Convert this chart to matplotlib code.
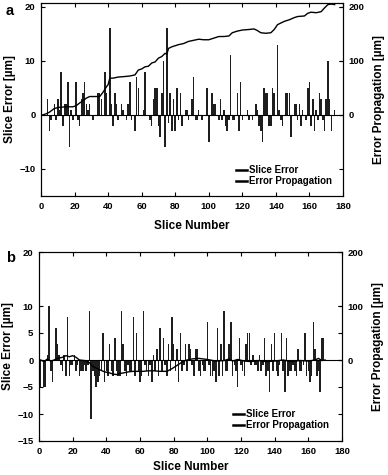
import matplotlib
matplotlib.use('Agg')
import matplotlib.pyplot as plt
from matplotlib.lines import Line2D

plt.rcParams['font.family'] = ['Liberation Sans', 'DejaVu Sans']
plt.rcParams['font.weight'] = 'bold'
plt.rcParams['axes.labelweight'] = 'bold'

# ---------------- Panel a data ----------------
a_slices = [4, 5, 6, 8, 9, 10, 11, 12, 13, 14, 15, 16, 17, 18, 19, 21, 22, 23, 24, 25,
            26, 27, 28, 29, 31, 34, 35, 36, 38, 39, 41, 42, 43, 44, 45, 46, 48, 49, 51, 52,
            53, 54, 56, 57, 58, 61, 62, 65, 66, 67, 68, 69, 70, 71, 72, 73, 74, 75, 76, 77,
            78, 79, 80, 81, 82, 83, 84, 86, 87, 88, 90, 91, 92, 93, 94, 96, 99, 100, 102, 103,
            104, 106, 107, 108, 109, 110, 111, 112, 113, 114, 115, 117, 118, 119, 120, 123, 124, 126, 128, 129,
            130, 131, 132, 133, 134, 135, 136, 137, 138, 139, 141, 142, 143, 144, 146, 147, 148, 149, 151, 152,
            153, 154, 155, 156, 158, 159, 160, 161, 162, 163, 164, 165, 166, 167, 168, 169, 170, 171, 172, 173,
            175]
a_errors = [3, -3, -1, 2, -1, 3, 1, 8, -2, 2, 2, 6, -6, 1, -1, 6, -1, -2, 3, 4,
            6, 2, 1, 2, -1, 4, 4, 3, 8, 4, 16, 2, -2, 4, 2, -1, 2, 1, -1, 2,
            6, -1, -3, 7, 5, 1, 8, -1, -2, 3, 5, 5, -2, -4, 4, 10, -6, 16, -1.5, 4,
            -3, 3, -3, 5, -1, 4, -2, 1, 1, -1, 3, 7, -1, -1, 1, -1, 5, -5, 4, 2,
            2, -1, 3, -1, 1, -2, -3, -1, 11, -1, -1, 4, -3, 6, -1, 1, -1, -1, 2, 1,
            -2, -3, -5, 5, 4, 4, -2, -2, 5, 4, 13, 1, -1, -2, 4, 4, 4, -4, 2, 2,
            -1, 2, -2, 1, -1, 5, 6, -2, 3, -3, 1, -1, 4, 3, -1, -3, 3, 10, 3, -3,
            1]
a_prop_slices = [1, 3, 5, 8, 11, 15, 19, 21, 23, 25, 27, 29, 32, 35, 37, 39, 40, 41, 43, 46,
                 50, 53, 56, 58, 60, 62, 64, 66, 68, 70, 72, 74, 75, 76, 78, 82, 85, 88, 91, 94,
                 97, 100, 103, 106, 109, 112, 114, 117, 120, 124, 127, 129, 131, 134, 137, 139, 141, 143, 145, 148,
                 151, 153, 157, 159, 161, 164, 167, 169, 171, 173, 175]
a_prop = [0, 2, 5, 12, 14, 15, 15, 17, 22, 26, 31, 34, 34, 34, 42, 52, 56, 68, 68, 70,
          71, 72, 74, 83, 85, 89, 90, 96, 98, 105, 108, 114, 112, 123, 126, 130, 132, 136, 138, 140,
          139, 139, 142, 145, 145, 146, 152, 155, 157, 158, 159, 156, 152, 151, 152, 158, 167, 170, 173, 176,
          180, 182, 183, 188, 190, 189, 191, 198, 204, 205, 204]

# ---------------- Panel b data ----------------
b_slices = [1, 3, 4, 5, 6, 7, 8, 10, 11, 12, 13, 14, 15, 16, 17, 18, 19, 20, 21, 22,
            23, 24, 25, 26, 27, 28, 29, 30, 31, 32, 33, 34, 35, 36, 37, 38, 39, 40, 41, 42,
            43, 44, 45, 46, 47, 48, 49, 50, 51, 52, 53, 54, 55, 56, 57, 58, 59, 60, 61, 62,
            63, 64, 65, 66, 67, 68, 69, 70, 71, 72, 73, 74, 75, 76, 77, 78, 79, 80, 81, 82,
            83, 84, 85, 86, 87, 88, 89, 90, 91, 92, 93, 94, 95, 96, 97, 98, 99, 100, 101, 102,
            103, 104, 105, 106, 107, 108, 109, 110, 111, 112, 113, 114, 115, 116, 117, 118, 119, 120, 121, 122,
            123, 124, 125, 126, 127, 128, 129, 130, 131, 132, 133, 134, 135, 136, 137, 138, 139, 140, 141, 142,
            143, 144, 145, 146, 147, 148, 149, 150, 151, 152, 153, 154, 155, 156, 157, 158, 159, 160, 161, 162,
            163, 164, 165, 166, 167, 168, 169]
b_errors = [-5, -5, -5, 1, 10, -2, -4, 6, 3, 1, -1, -2, 1, -3, 8, -3, -1, -1, 1, -2,
            -1, -3, -2, -2, -1, -2, -1, 9, -11, -2, -3, -5, -4, -3, -2, 5, -4, -2, -3, 3,
            -2, -3, 4, -2, -3, -3, 9, 3, -2, -3, -1, -2, -2, 8, -3, 5, -2, -4, -3, 9,
            -1, -2, -3, -1, -4, 1, -2, 2, -3, 6, -2, 4, -1, -3, 3, -2, 8, 3, -2, 2,
            -4, 5, -2, -1, 3, -2, 3, 2, -1, -3, 2, 2, -2, -3, -1, -2, -2, 7, -1, -3,
            -3, -2, -4, 6, -3, 3, -3, 9, -2, -2, 3, 7, -3, -1, -2, -5, 4, -1, -2, -3,
            3, 5, 5, -1, 1, -1, -1, -2, 1, -2, -1, 4, -3, -2, -6, 3, -2, 5, -2, -3,
            -1, 5, -2, -6, 4, -3, -2, -2, -1, -2, -3, 2, -2, -2, -1, 5, -3, -2, -4, -3,
            7, 2, -3, -2, -6, 4, 4]
b_prop_slices = [1, 3, 5, 7, 9, 11, 14, 16, 18, 20, 22, 24, 27, 30, 32, 34, 36, 39, 42, 44,
                 46, 48, 50, 53, 56, 59, 62, 65, 68, 72, 76, 79, 81, 84, 86, 88, 91, 95, 100, 105,
                 110, 113, 115, 118, 122, 126, 130, 135, 140, 145, 150, 155, 160, 164, 166, 168, 170]
b_prop = [0, -3, 2, -2, 0, 3, 5, 8, 6, 8, 5, 0, -1, -5, -12, -15, -18, -22, -24, -26,
          -27, -25, -24, -22, -21, -21, -21, -20, -20, -21, -21, -16, -12, -6, -2, 0, 2, 3, 1, -2,
          -1, 2, -2, 1, -2, -3, -1, -3, -2, 0, -3, -1, -2, 0, 3, -1, 0]

x_ticks = [0, 20, 40, 60, 80, 100, 120, 140, 160, 180]
a_left_ticks = [-10, 0, 10, 20]
b_left_ticks = [-15, -10, -5, 0, 5, 10, 20]
right_ticks = [0, 100, 200]

W, H = 388, 475
fig = plt.figure(figsize=(W / 100, H / 100), dpi=100)


def rect(l, t, r, b):
    return [l / W, 1 - b / H, (r - l) / W, (b - t) / H]


bar_color = '#1e1e1e'
TICK_FS = 6.8
LAB_FS = 8.5


def style(ax, axr):
    for a in (ax, axr):
        for s in a.spines.values():
            s.set_linewidth(0.8)
    ax.tick_params(axis='both', direction='in', length=3, width=0.8,
                   labelsize=TICK_FS, top=True, right=True, pad=4)
    axr.tick_params(axis='y', direction='in', length=3, width=0.8,
                    labelsize=TICK_FS, pad=4)
    ax.set_xlim(0, 180)
    ax.set_xticks(x_ticks)


def panel(l, t, r, b, slices, errors, ps, pv, ylim_top, left_ticks, bar_w,
          legend_anchor, xlabelpad):
    ax = fig.add_axes(rect(l, t, r, b))
    axr = ax.twinx()
    ax.bar(slices, errors, width=bar_w, color=bar_color, linewidth=0, zorder=2)
    ax.axhline(0, color='black', lw=0.8, zorder=3)
    axr.plot(ps, pv, color='black', lw=1.0, zorder=4)
    ax.set_ylim(-15, ylim_top)
    axr.set_ylim(-150, ylim_top * 10)
    ax.set_yticks(left_ticks)
    axr.set_yticks(right_ticks)
    style(ax, axr)
    ax.set_ylabel('Slice Error [µm]', fontsize=LAB_FS)
    ax.yaxis.set_label_coords(-0.082, 0.5)
    axr.set_ylabel('Error Propagation [µm]', fontsize=LAB_FS)
    axr.yaxis.set_label_coords(1.1, 0.5)
    ax.set_xlabel('Slice Number', fontsize=LAB_FS, labelpad=xlabelpad)
    handles = [Line2D([], [], color='black', lw=1.8), Line2D([], [], color='black', lw=1.8)]
    ax.legend(handles, ['Slice Error', 'Error Propagation'], loc='upper left',
              bbox_to_anchor=legend_anchor, bbox_transform=fig.transFigure,
              frameon=False, fontsize=7, handlelength=1.1, handletextpad=0.2,
              labelspacing=0.15, borderpad=0, borderaxespad=0)
    return ax, axr


panel(41, 3, 343, 196, a_slices, a_errors, a_prop_slices, a_prop, 20.7,
      a_left_ticks, 0.9, (236 / W, 1 - 165 / H), 7)
panel(39, 252, 342, 441, b_slices, b_errors, b_prop_slices, b_prop, 20,
      b_left_ticks, 0.9, (233 / W, 1 - 409 / H), 4)

fig.text(6 / W, 1 - 11 / H, 'a', fontsize=10.5, fontweight='bold', va='center', ha='left')
fig.text(6 / W, 1 - 258 / H, 'b', fontsize=10.5, fontweight='bold', va='center', ha='left')

fig.savefig('out.png', dpi=100)
